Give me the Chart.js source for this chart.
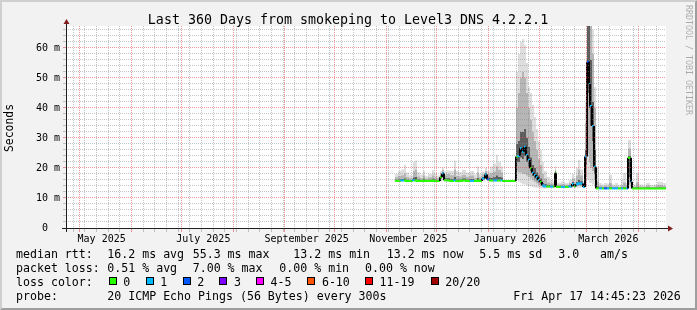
<!DOCTYPE html>
<html><head><meta charset="utf-8">
<script src="https://cdn.jsdelivr.net/npm/chart.js@4/dist/chart.umd.min.js"></script>
<style>html,body{margin:0;padding:0;background:#f2f2f2;overflow:hidden}canvas{display:block}</style>
</head><body>
<canvas id="c" width="697" height="310"></canvas>
<script>
// ---------- text ----------
const chartTitle = "Last 360 Days from smokeping to Level3 DNS 4.2.2.1";
const yAxisTitle = "Seconds";
const watermark = "RRDTOOL / TOBI OETIKER";
const monthLabels = ["May 2025","July 2025","September 2025","November 2025","January 2026","March 2026"];
const monthLabelStarts = [[2025,4],[2025,6],[2025,8],[2025,10],[2026,0],[2026,2]];
const rowTitles = ["median rtt:","packet loss:","loss color:","probe:"];
const rttStats = ["16.2 ms avg","55.3 ms max","13.2 ms min","13.2 ms now","5.5 ms sd","3.0","am/s"];
const lossStats = ["0.51 % avg","7.00 % max","0.00 % min","0.00 % now"];
const lossLegend = ["0","1","2","3","4-5","6-10","11-19","20/20"];
const lossColors = ["#26ff00","#00b8ff","#0059ff","#7e00ff","#ff00ff","#ff5500","#ff0000","#a10000"];
const probeText = "20 ICMP Echo Pings (56 Bytes) every 300s";
const stampText = "Fri Apr 17 14:45:23 2026";

// ---------- data (days since start of the 360-day window, values in ms) ----------
const days = [197.4,199.2,201.0,202.8,204.0,205.8,208.2,209.4,210.6,212.4,214.2,215.4,217.2,219.6,220.8,222.6,224.4,225.6,226.8,228.6,230.4,232.8,234.0,235.8,237.6,240.0,242.4,244.8,246.6,247.8,249.6,251.4,252.6,254.4,256.2,258.0,259.2,261.0,262.2,
 270.0,271.2,272.4,273.6,274.8,276.0,277.2,278.4,279.6,280.8,282.0,283.2,284.4,285.6,286.8,288.6,290.4,292.2,293.4,294.0,297.0,299.4,301.8,303.6,304.8,306.0,307.2,308.4,310.2,311.4,312.6,313.8,314.4,315.6,316.8,
 318.0,319.8,321.6,322.8,324.6,325.8,327.6,329.4,331.2,333.0,334.2,336.0,337.2,339.0,339.6,342.0,343.8,346.2,348.0,350.4,352.8,354.6,356.4,358.2];
const median = [15.7,15.7,15.8,15.8,15.7,15.7,15.9,15.8,15.7,15.7,15.8,15.7,15.7,15.8,15.7,15.7,16.9,18.2,15.9,15.8,15.7,15.8,15.7,15.7,15.8,15.7,15.7,15.7,15.8,15.7,16.5,17.8,16.2,15.8,15.8,15.9,15.8,15.9,15.7,
 23.8,24.0,26.6,25.4,27.1,24.3,22.7,19.9,18.4,17.7,16.9,16.0,15.4,14.2,13.9,13.8,13.8,13.8,18.4,13.7,13.7,13.7,13.8,14.7,13.9,14.6,14.9,14.8,13.7,23.8,55.4,48.0,40.7,34.0,20.4,
 13.2,13.2,13.2,13.2,13.2,13.2,13.2,13.2,13.2,13.2,13.2,13.2,23.4,15.4,13.2,13.2,13.2,13.2,13.2,13.2,13.2,13.2,13.2,13.2];
const lossCount = [0,0,1,0,0,0,1,0,0,0,0,0,0,0,0,0,0,1,0,0,0,1,0,0,0,0,1,0,0,0,1,1,2,0,1,1,0,1,0,
 0,1,1,1,1,1,1,0,1,1,1,1,0,1,1,0,1,0,0,0,1,0,1,1,0,1,1,1,1,1,2,1,1,1,1,
 0,1,0,2,1,0,1,1,0,1,0,1,0,1,0,0,0,0,0,0,0,0,0,0];
const pingMin = [15.4,15.4,15.4,15.5,15.4,15.4,15.5,15.5,15.4,15.4,15.5,15.4,15.4,15.5,15.4,15.4,15.6,16.5,15.5,15.5,15.4,15.5,15.4,15.4,15.5,15.4,15.4,15.4,15.5,15.4,15.6,16.3,15.6,15.5,15.5,15.5,15.5,15.5,15.6,
 16.0,15.5,15.0,14.5,14.5,14.2,14.0,13.8,13.6,13.5,13.4,13.3,13.3,13.2,13.2,13.3,13.3,13.3,13.4,13.3,13.3,13.3,13.3,13.4,13.3,13.4,13.5,13.5,13.3,14.0,16.0,15.0,15.0,14.5,13.8,
 13.0,13.0,13.0,13.0,13.0,13.0,13.0,13.0,13.0,13.0,13.0,13.0,13.2,13.1,13.0,13.0,13.0,13.0,13.0,13.0,13.0,13.0,13.0,13.0];
const ping10 = [15.6,15.6,15.7,15.7,15.6,15.6,15.8,15.7,15.6,15.6,15.7,15.6,15.6,15.7,15.6,15.6,16.2,17.4,15.7,15.7,15.6,15.7,15.6,15.6,15.7,15.6,15.6,15.6,15.7,15.6,16.0,17.0,15.9,15.7,15.7,15.8,15.7,15.8,15.7,
 19.0,18.5,18.5,18.0,18.0,17.5,17.0,16.5,15.8,15.3,14.8,14.3,14.0,13.6,13.5,13.5,13.5,13.5,14.0,13.5,13.5,13.5,13.5,13.9,13.6,13.9,14.0,14.0,13.5,17.0,25.0,22.0,20.0,19.0,16.0,
 13.1,13.1,13.1,13.1,13.1,13.1,13.1,13.1,13.1,13.1,13.1,13.1,14.5,13.4,13.1,13.1,13.1,13.1,13.1,13.1,13.1,13.1,13.1,13.1];
const ping25 = [15.7,15.7,15.8,15.8,15.7,15.7,15.9,15.8,15.7,15.7,15.8,15.7,15.7,15.8,15.7,15.7,16.6,17.9,15.9,15.8,15.7,15.8,15.7,15.7,15.8,15.7,15.7,15.7,15.8,15.7,16.3,17.5,16.1,15.8,15.8,15.9,15.8,15.9,15.7,
 22.0,22.0,23.5,23.0,24.0,22.0,20.5,18.8,17.3,16.5,15.8,15.2,14.7,14.0,13.8,13.7,13.7,13.7,15.0,13.6,13.6,13.6,13.7,14.3,13.8,14.3,14.5,14.4,13.6,21.0,45.0,40.0,34.0,29.0,18.0,
 13.2,13.2,13.2,13.2,13.2,13.2,13.2,13.2,13.2,13.2,13.2,13.2,17.0,14.0,13.2,13.2,13.2,13.2,13.2,13.2,13.2,13.2,13.2,13.2];
const ping75 = [16.1,16.2,16.3,16.5,16.1,16.0,16.8,17.0,16.2,16.0,16.4,16.0,16.1,16.4,16.1,16.0,17.4,18.6,16.6,16.6,16.3,17.0,16.2,16.2,16.5,16.2,16.3,16.0,16.7,16.1,17.0,18.3,16.8,16.7,16.9,17.5,17.0,16.8,15.8,
 28,29,32,32,33,30,27,23.5,21,20,18.5,17.5,16.5,15.0,14.6,14.3,14.1,14.1,18.8,14.0,14.0,13.9,14.2,15.3,14.3,15.3,16.0,15.6,14.0,26,70,70,56,42,26,
 13.8,13.5,13.4,13.5,13.4,13.6,13.4,13.4,13.4,13.5,13.6,13.4,24.0,16.5,13.4,13.6,13.4,13.4,13.5,13.4,13.4,13.5,13.5,13.4];
const ping90 = [16.9,17.3,17.6,18.2,17.0,16.6,19.0,19.5,17.2,16.7,17.5,16.5,16.9,17.6,16.9,16.6,18.2,19.3,17.6,18.0,17.6,19.5,17.3,17.2,17.7,17.1,17.5,16.7,18.5,16.9,17.8,19.0,17.8,18.3,18.8,20.5,19.3,18.5,15.9,
 40,45,50,52,50,45,40,36,32,29,26,23,21,18,16.5,15.2,14.8,14.6,19.5,14.5,14.6,14.4,15.0,16.5,15.2,17.5,19.5,17.5,14.6,35,75,75,70,58,40,
 15.5,14.0,13.8,14.0,13.9,15.0,13.8,13.9,13.7,14.2,15.2,13.9,26.5,19.0,13.8,15.2,13.8,13.7,14.2,13.7,13.8,14.3,14.3,14.0];
const pingMax = [18.0,19.0,19.5,21.0,18.5,17.6,22.0,22.5,18.6,17.8,19.0,17.4,18.0,19.3,18.2,17.5,19.0,20.2,18.8,19.2,19.0,22.5,19.0,18.6,19.4,18.5,19.0,17.8,20.5,18.0,18.8,20.0,19.0,20.5,21.5,24.3,22.0,20.5,16.0,
 52,58,62,63,61,55,47,45,41,37,33,29,26,22,19,17,16,15.5,20.5,15.2,15.5,15.0,16.0,18.0,16.5,20.0,22.7,19.5,15.5,42,75,75,75,66,47,
 20.0,15.0,14.5,15.0,14.8,17.7,14.5,15.0,14.3,16.0,18.3,15.0,29.3,22.0,14.5,18.3,14.5,14.2,15.0,14.3,14.5,15.4,15.4,15.0];

// ---------- time frame ----------
const DAY = 86400000;
const END_T = Date.UTC(2026,3,17,14,45,23);
const SPAN_DAYS = 360;
const START_T = END_T - SPAN_DAYS*DAY;
const dayOf = t => (t - START_T)/DAY;
const Y_MAX = 67.33;

// each sample holds its value until the next sample (rrd step)
function steps(vals){
  const out=[];
  for(let i=0;i<days.length;i++){
    const x1 = i+1<days.length ? days[i+1] : SPAN_DAYS;
    out.push({x:days[i],y:vals[i]},{x:x1,y:vals[i]});
  }
  return out;
}
function lossBin(n){ if(n<=3) return n; if(n<=5) return 4; if(n<=10) return 5; if(n<=19) return 6; return 7; }

// grid positions: Sundays (minor) and first of month (major)
const xGrid = [], monthStarts = new Set();
{
  const d0 = new Date(START_T); let t = Date.UTC(d0.getUTCFullYear(), d0.getUTCMonth(), d0.getUTCDate()+1);
  for(; t < END_T; t += DAY){
    const d = new Date(t);
    if(d.getUTCDate()===1){ xGrid.push(dayOf(t)); monthStarts.add(dayOf(t)); }
    else if(d.getUTCDay()===0) xGrid.push(dayOf(t));
  }
}
const labelPos = monthLabelStarts.map(([y,m]) => dayOf(Date.UTC(y,m,1)) + 13);
const yGrid = []; for(let v=0; v<=Y_MAX; v+=2) yGrid.push(v);

const GRID = 'rgba(135,135,135,0.48)';
const MGRID = 'rgba(222,70,70,0.55)';
const MONO = '"DejaVu Sans Mono", monospace';
const W=697, H=310;

const rrdPlugin = {
  id:'rrd',
  beforeDraw(chart){
    const {ctx, chartArea:a} = chart;
    ctx.save();
    ctx.fillStyle='#f2f2f2'; ctx.fillRect(0,0,W,H);
    ctx.fillStyle='#cfcfcf';
    ctx.beginPath(); ctx.moveTo(0,H); ctx.lineTo(2,H-2); ctx.lineTo(2,2); ctx.lineTo(W-2,2); ctx.lineTo(W,0); ctx.lineTo(0,0); ctx.closePath(); ctx.fill();
    ctx.fillStyle='#9e9e9e';
    ctx.beginPath(); ctx.moveTo(2,H-2); ctx.lineTo(W-2,H-2); ctx.lineTo(W-2,2); ctx.lineTo(W,0); ctx.lineTo(W,H); ctx.lineTo(0,H); ctx.closePath(); ctx.fill();
    ctx.fillStyle='#ffffff'; ctx.fillRect(a.left,a.top,a.right-a.left,a.bottom-a.top);
    ctx.restore();
  },
  afterDraw(chart){
    const {ctx, chartArea:a} = chart;
    ctx.save();
    // axes
    ctx.strokeStyle='#1f1f1f'; ctx.lineWidth=1;
    ctx.beginPath(); ctx.moveTo(a.left-4, a.bottom+0.5); ctx.lineTo(a.right+4, a.bottom+0.5); ctx.stroke();
    ctx.beginPath(); ctx.moveTo(a.left+0.5, a.bottom+4); ctx.lineTo(a.left+0.5, a.top-4); ctx.stroke();
    ctx.fillStyle='#801f1f';
    ctx.beginPath(); ctx.moveTo(a.right+2, a.bottom+0.5-3); ctx.lineTo(a.right+2, a.bottom+0.5+3); ctx.lineTo(a.right+7, a.bottom+0.5); ctx.closePath(); ctx.fill();
    ctx.beginPath(); ctx.moveTo(a.left+0.5-3, a.top-2); ctx.lineTo(a.left+0.5+3, a.top-2); ctx.lineTo(a.left+0.5, a.top-7); ctx.closePath(); ctx.fill();
    // title
    ctx.fillStyle='#000'; ctx.textBaseline='alphabetic';
    ctx.font='13.3px '+MONO; ctx.textAlign='center';
    ctx.fillText(chartTitle, 348, 24);
    // y axis title
    ctx.save(); ctx.translate(10.5,128); ctx.rotate(-Math.PI/2);
    ctx.font='11.4px '+MONO; ctx.textBaseline='middle'; ctx.fillText(yAxisTitle,0,0); ctx.restore();
    // watermark
    ctx.save(); ctx.translate(688.5,0); ctx.rotate(Math.PI/2);
    ctx.font='8.3px '+MONO; ctx.textAlign='left'; ctx.textBaseline='middle'; ctx.fillStyle='rgba(0,0,0,0.3)';
    ctx.fillText(watermark,5,0); ctx.restore();
    // legend rows
    ctx.font='11.6px '+MONO; ctx.textAlign='left'; ctx.textBaseline='alphabetic'; ctx.fillStyle='#000';
    const base=[257.5,271.5,285.5,299.5];
    rowTitles.forEach((s,i)=>ctx.fillText(s,16,base[i]));
    const rttX=[107.3,192.7,293.3,386.7,479.3,558.3,600];
    rttStats.forEach((s,i)=>ctx.fillText(s,rttX[i],base[0]));
    const lossX=[107.3,192.7,279.3,365];
    lossStats.forEach((s,i)=>ctx.fillText(s,lossX[i],base[1]));
    const sqX=[108.7,145.7,182.7,219.3,256,307.3,365,430.7];
    lossLegend.forEach((s,i)=>{
      ctx.fillStyle=lossColors[i]; ctx.fillRect(Math.round(sqX[i]),277,8,8);
      ctx.strokeStyle='#000'; ctx.strokeRect(Math.round(sqX[i])+0.5,277.5,7,7);
      ctx.fillStyle='#000'; ctx.fillText(s,sqX[i]+14.6,base[2]);
    });
    ctx.fillText(probeText,107.3,base[3]);
    ctx.fillText(stampText,513.3,base[3]);
    ctx.restore();
  }
};

const clear = 'rgba(0,0,0,0)';
const band = (vals, extra) => Object.assign({data:steps(vals), borderColor:clear, borderWidth:0, pointRadius:0, fill:false}, extra);

new Chart(document.getElementById('c'), {
  type:'line',
  data:{ datasets:[
    band(pingMin,{order:10}),
    band(pingMax,{order:9, fill:'-1', backgroundColor:'#dedede'}),
    band(ping10,{order:8}),
    band(ping90,{order:7, fill:'-1', backgroundColor:'#b6b6b6'}),
    band(ping25,{order:6}),
    band(ping75,{order:5, fill:'-1', backgroundColor:'#5e5e5e'}),
    { data:steps(median), order:1, pointRadius:0, borderWidth:2, fill:false, borderColor:lossColors[0],
      segment:{ borderColor: c => {
        const i0=c.p0DataIndex;
        if(i0%2===0) return lossColors[lossBin(lossCount[i0/2])];
        if(Math.abs(c.p1.parsed.y-c.p0.parsed.y)>0.5) return '#000';
        return lossColors[lossBin(lossCount[(i0+1)/2])];
      }}}
  ]},
  options:{
    responsive:false, animation:false, devicePixelRatio:1, events:[],
    layout:{padding:{left:0,right:31,top:26,bottom:0}},
    plugins:{legend:{display:false}, tooltip:{enabled:false}, title:{display:false}},
    scales:{
      x:{ type:'linear', min:0, max:SPAN_DAYS, position:'bottom', weight:0,
        afterBuildTicks:s=>{ s.ticks = xGrid.map(v=>({value:v})); },
        afterFit:s=>{ s.height=4; },
        ticks:{ display:true, autoSkip:false, maxRotation:0, callback:()=>'' , padding:0},
        grid:{ z:1, lineWidth:1, tickLength:4, color:c=> monthStarts.has(c.tick && c.tick.value) ? MGRID : GRID },
        border:{ display:false, dash:[1,1] } },
      x2:{ type:'linear', min:0, max:SPAN_DAYS, position:'bottom', weight:1,
        afterBuildTicks:s=>{ s.ticks = labelPos.map(v=>({value:v})); },
        afterFit:s=>{ s.height = H - 232; },
        ticks:{ autoSkip:false, maxRotation:0, padding:1, color:'#000', font:{family:'DejaVu Sans Mono', size:10},
          callback:(v,i)=>monthLabels[i] },
        grid:{ display:false, drawTicks:false }, border:{display:false} },
      y:{ type:'linear', min:0, max:Y_MAX, position:'left',
        afterBuildTicks:s=>{ s.ticks = yGrid.map(v=>({value:v})); },
        afterFit:s=>{ s.width = 66; },
        ticks:{ autoSkip:false, padding:3, color:'#000', font:{family:'DejaVu Sans Mono', size:10},
          callback:v=> v%10===0 ? (v===0 ? '0  ' : v+' m') : '' },
        grid:{ z:1, lineWidth:1, tickLength:3, color:c=> (c.tick && c.tick.value%10===0) ? MGRID : GRID },
        border:{ display:false, dash:[1,1] } }
    }
  },
  plugins:[rrdPlugin]
});
</script>
</body></html>
